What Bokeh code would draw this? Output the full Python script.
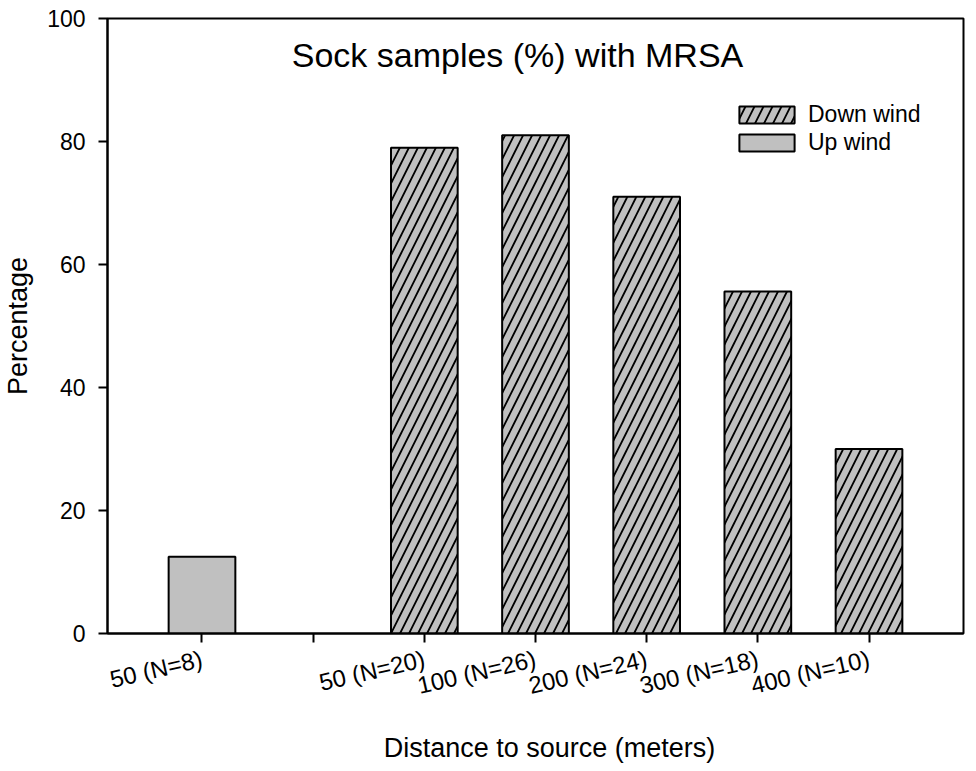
import math
from bokeh.plotting import figure
from bokeh.layouts import column
from bokeh.models import Range1d, FixedTicker, Legend, LegendItem, Label
from bokeh.embed import file_html
from bokeh.resources import INLINE
from bokeh.core.properties import value

# ---- data ----
upwind_labels = ["50 (N=8)"]
upwind_values = [12.5]
downwind_labels = ["50 (N=20)", "100 (N=26)", "200 (N=24)", "300 (N=18)", "400 (N=10)"]
downwind_values = [79, 81, 71, 55.6, 30]
y_ticks = [0, 20, 40, 60, 80, 100]

title_text = "Sock samples (%) with MRSA"
x_title = "Distance to source (meters)"
y_title = "Percentage"

FONT = "Liberation Sans"
GRAY = "#c0c0c0"

# slot positions: upwind group, one empty slot, downwind group
gap = 1
up_x = list(range(len(upwind_labels)))
down_x = [len(upwind_labels) + gap + i for i in range(len(downwind_labels))]
n_slots = len(upwind_labels) + gap + len(downwind_labels)
all_x = list(range(n_slots))
overrides = {x: "" for x in all_x}
for x, l in zip(up_x, upwind_labels):
    overrides[x] = l
for x, l in zip(down_x, downwind_labels):
    overrides[x] = l

xr = Range1d(-0.85, n_slots - 1 + 0.85)

p = figure(width=972, height=731, output_backend="svg", toolbar_location=None,
           x_range=xr, y_range=Range1d(0, 100),
           min_border_left=105, min_border_right=9, min_border_top=18, min_border_bottom=98)
p.background_fill_color = "white"
p.border_fill_color = "white"
p.outline_line_color = "black"
p.outline_line_width = 2
p.grid.visible = False

r_down = p.vbar(x=down_x, top=downwind_values, width=0.6, fill_color=GRAY,
                line_color="black", line_width=2, hatch_pattern="/", hatch_scale=18,
                hatch_color="black", hatch_weight=1.8)
r_up = p.vbar(x=up_x, top=upwind_values, width=0.6, fill_color=GRAY,
              line_color="black", line_width=2)

# axes
xa = p.xaxis[0]
xa.ticker = FixedTicker(ticks=all_x)
xa.major_label_overrides = overrides
xa.major_label_orientation = math.radians(13)
ya = p.yaxis[0]
ya.ticker = FixedTicker(ticks=y_ticks)
for ax in (xa, ya):
    ax.axis_line_width = 2
    ax.axis_line_color = "black"
    ax.major_tick_line_width = 2
    ax.major_tick_line_color = "black"
    ax.major_tick_in = 0
    ax.major_tick_out = 9
    ax.minor_tick_line_color = None
    ax.major_label_text_font = FONT
    ax.major_label_text_color = "black"
    ax.axis_label_text_font = FONT
    ax.axis_label_text_font_size = "27px"
    ax.axis_label_text_font_style = "normal"
    ax.axis_label_text_color = "black"
xa.major_label_text_font_size = "24px"
ya.major_label_text_font_size = "23px"
ya.axis_label = y_title
xa.major_label_standoff = 16
ya.major_label_standoff = 13
ya.axis_label_standoff = 11

# title inside plot
p.add_layout(Label(x=2.838, y=94.0, text=title_text, text_font=FONT, text_font_size="34px",
                   text_align="center", text_baseline="alphabetic", text_color="black"))

legend = Legend(items=[LegendItem(label="Down wind", renderers=[r_down]),
                       LegendItem(label="Up wind", renderers=[r_up])],
                location=(625, 477), margin=0, padding=0, spacing=1,
                glyph_width=69, glyph_height=21, label_standoff=7,
                label_text_font=FONT, label_text_font_size="23px", label_text_color="black",
                border_line_color=None, background_fill_alpha=0)
p.add_layout(legend, "center")

# strip below holding the x-axis title (shares the x scale)
p2 = figure(width=972, height=36, output_backend="svg", toolbar_location=None,
            x_range=xr, y_range=Range1d(0, 1), x_axis_location=None, y_axis_location=None,
            min_border_left=105, min_border_right=9, min_border_top=0, min_border_bottom=0)
p2.outline_line_color = None
p2.grid.visible = False
p2.background_fill_color = "white"
p2.border_fill_color = "white"
p2.text(x=[3.126], y=[0.528], text=[x_title], text_font=value(FONT), text_font_size="27px",
        text_align="center", text_baseline="middle", text_color="black")

layout = column(p, p2, spacing=0)
open("out.html", "w").write(file_html(layout, INLINE))
